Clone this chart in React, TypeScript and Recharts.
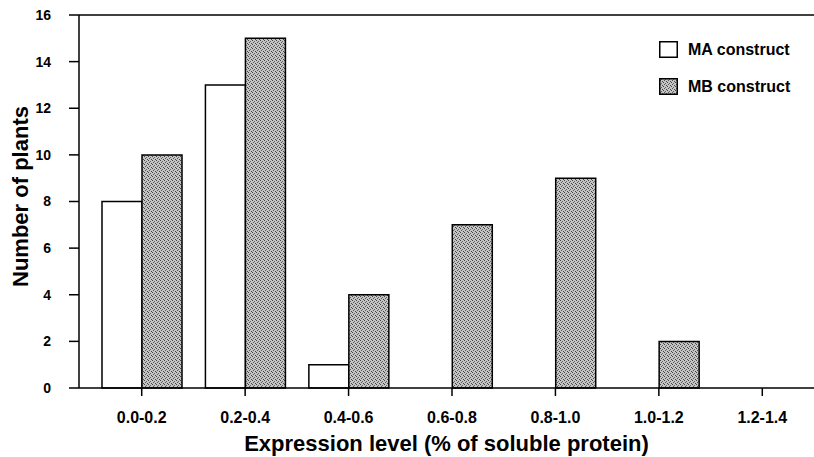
import React from 'react';
import { BarChart, Bar, XAxis, YAxis, ReferenceLine, Label } from 'recharts';

const categories = ['0.0-0.2', '0.2-0.4', '0.4-0.6', '0.6-0.8', '0.8-1.0', '1.0-1.2', '1.2-1.4'];
const maValues = [8, 13, 1, 0, 0, 0, 0];
const mbValues = [10, 15, 4, 7, 9, 2, 0];
const yTicks = [0, 2, 4, 6, 8, 10, 12, 14, 16];

const data = categories.map((c, i) => ({ cat: c, ma: maValues[i], mb: mbValues[i] }));

const FONT = '"Liberation Sans", Arial, Helvetica, sans-serif';

const LegendBox = () => (
  <div
    style={{
      position: 'absolute',
      left: 659,
      top: 41,
      fontFamily: FONT,
      fontWeight: 'bold',
      fontSize: 16,
      color: '#000',
      lineHeight: '17px',
    }}
  >
    <div style={{ display: 'flex', alignItems: 'center', height: 17, marginBottom: 20 }}>
      <svg width={19} height={17} style={{ marginRight: 10 }}>
        <rect x={0.75} y={0.75} width={17.5} height={15.5} fill="#fff" stroke="#000" strokeWidth={1.5} />
      </svg>
      <span>MA construct</span>
    </div>
    <div style={{ display: 'flex', alignItems: 'center', height: 17 }}>
      <svg width={19} height={17} style={{ marginRight: 10 }}>
        <rect x={0.75} y={0.75} width={17.5} height={15.5} fill="url(#stipple)" stroke="#000" strokeWidth={1.5} />
      </svg>
      <span>MB construct</span>
    </div>
  </div>
);

export default function App() {
  return (
    <div style={{ position: 'absolute', left: 0, top: 0, width: 814, height: 457, background: '#fff' }}>
      <svg width={0} height={0} style={{ position: 'absolute' }}>
        <defs>
          <pattern id="stipple" width={4} height={4} patternUnits="userSpaceOnUse">
            <rect width={4} height={4} fill="#c4c4c4" />
            <rect x={0} y={0} width={1} height={1} fill="#444" />
            <rect x={2} y={1} width={1} height={1} fill="#666" />
            <rect x={1} y={2} width={1} height={1} fill="#555" />
            <rect x={3} y={3} width={1} height={1} fill="#444" />
          </pattern>
        </defs>
      </svg>
      <BarChart
        width={814}
        height={457}
        data={data}
        margin={{ top: 15, right: 0, bottom: 0, left: 0 }}
        barCategoryGap={12}
        barGap={0}
      >
        <XAxis
          dataKey="cat"
          height={69}
          padding={{ left: 11, right: 0 }}
          tickSize={8}
          tickMargin={16}
          axisLine={{ stroke: '#000', strokeWidth: 1.5 }}
          tickLine={{ stroke: '#000', strokeWidth: 1.5 }}
          tick={{ fill: '#000', fontFamily: FONT, fontWeight: 'bold', fontSize: 16 }}
          interval={0}
        >
          <Label
            value="Expression level (% of soluble protein)"
            position="insideBottom"
            offset={6}
            style={{ fill: '#000', fontFamily: FONT, fontSize: 22, fontWeight: 'bold' }}
          />
        </XAxis>
        <YAxis
          width={79}
          domain={[0, 16]}
          ticks={yTicks}
          interval={0}
          tickSize={10}
          tickMargin={18}
          axisLine={{ stroke: '#000', strokeWidth: 1.5 }}
          tickLine={{ stroke: '#000', strokeWidth: 1.5 }}
          tick={{ fill: '#000', fontFamily: FONT, fontWeight: 'bold', fontSize: 14 }}
        >
          <Label
            content={(props: any) => {
              const vb = props.viewBox || { x: 0, y: 15, height: 373 };
              const cx = vb.x + 20;
              const cy = vb.y + vb.height / 2 - 5;
              return (
                <text
                  x={cx}
                  y={cy}
                  transform={`rotate(-90, ${cx}, ${cy})`}
                  textAnchor="middle"
                  dominantBaseline="central"
                  style={{ fill: '#000', fontFamily: FONT, fontSize: 22, fontWeight: 'bold' }}
                >
                  Number of plants
                </text>
              );
            }}
          />
        </YAxis>
        <ReferenceLine y={16} stroke="#000" strokeWidth={1.5} />
        <Bar dataKey="ma" name="MA construct" fill="#fff" stroke="#000" strokeWidth={1.5} isAnimationActive={false} />
        <Bar dataKey="mb" name="MB construct" fill="url(#stipple)" stroke="#000" strokeWidth={1.5} isAnimationActive={false} />
      </BarChart>
      <LegendBox />
    </div>
  );
}
